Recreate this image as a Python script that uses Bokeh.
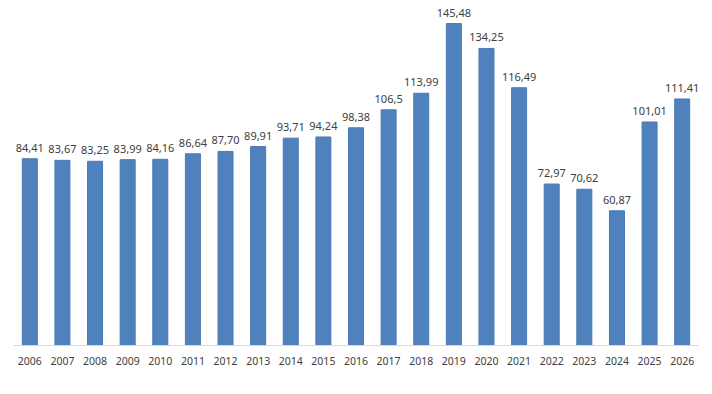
from bokeh.plotting import figure
from bokeh.models import ColumnDataSource, FactorRange, Range1d
from bokeh.core.properties import value
from bokeh.embed import file_html
from bokeh.resources import INLINE

years = [str(y) for y in range(2006, 2027)]
values = [84.41, 83.67, 83.25, 83.99, 84.16, 86.64, 87.70, 89.91, 93.71, 94.24,
          98.38, 106.5, 113.99, 145.48, 134.25, 116.49, 72.97, 70.62, 60.87,
          101.01, 111.41]
labels = ["84,41", "83,67", "83,25", "83,99", "84,16", "86,64", "87,70", "89,91",
          "93,71", "94,24", "98,38", "106,5", "113,99", "145,48", "134,25",
          "116,49", "72,97", "70,62", "60,87", "101,01", "111,41"]

src = ColumnDataSource(dict(x=years, top=values, label=labels))

p = figure(width=704, height=386, output_backend="svg", toolbar_location=None,
           x_range=FactorRange(*years, range_padding=0),
           y_range=Range1d(0, 152.3),
           min_border_left=13, min_border_right=6, min_border_top=8, min_border_bottom=41)

p.vbar(x="x", top="top", width=0.46, source=src, fill_color="#4f81bd",
       line_color="#4a7ab3", line_width=1)
p.text(x="x", y="top", text="label", source=src, text_align="center",
       text_baseline="bottom", y_offset=-7, text_font=value("Noto Sans"),
       text_font_size="11px", text_color="#404040")

p.yaxis.visible = False
p.xaxis.axis_line_color = "#d9d9d9"
p.xaxis.major_tick_line_color = None
p.xaxis.minor_tick_line_color = None
p.xaxis.major_label_text_font = "Noto Sans"
p.xaxis.major_label_text_font_size = "10.5px"
p.xaxis.major_label_text_color = "#404040"
p.xaxis.major_label_standoff = 5
p.xgrid.visible = False
p.ygrid.visible = False
p.outline_line_color = None

open("out.html", "w").write(file_html(p, INLINE))
